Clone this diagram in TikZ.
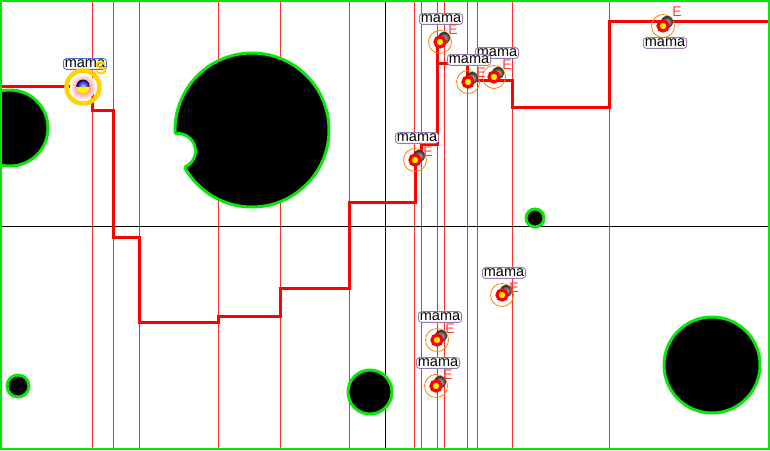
\documentclass[tikz,border=0pt]{standalone}
\usepackage{fontspec}
\setmainfont{Liberation Sans}
\definecolor{grn}{RGB}{10,230,10}
\definecolor{lblpurple}{RGB}{150,120,170}
\definecolor{lblblue}{RGB}{80,110,210}
\definecolor{ylw}{RGB}{255,210,0}
\definecolor{thinred}{RGB}{255,40,40}
\definecolor{eclr}{RGB}{255,60,60}
\tikzset{
  vline/.style={thinred, line width=0.9pt},
  axisline/.style={black, line width=0.9pt},
  blob/.style={grn, line width=3pt, fill=black},
  steppath/.style={red, line width=3pt, line join=miter},
  lbl/.style={draw=lblpurple, fill=white, rounded corners=3pt, line width=0.9pt, inner sep=1.4pt, font=\fontsize{14.5}{14.5}\selectfont, text=black},
  etxt/.style={text=eclr, font=\fontsize{14}{14}\selectfont, inner sep=0pt},
  mk/.pic={
    \draw[orange, line width=0.8pt] (0,0) circle (11.5);
    \shade[inner color=gray!50, outer color=black!85] (4,-4) circle (6);
    \draw[red, line width=3.2pt, fill=yellow] (0,0) circle (5);
  }
}
\begin{document}
\begin{tikzpicture}[x=1pt,y=-1pt]
\useasboundingbox (0,0) rectangle (770,450);
\fill[white] (0,0) rectangle (770,450);
% thin red vertical lines
\foreach \x in {92,113,139,218,280,349,414,421,437,444,467,477,512,609}
  \draw[vline] (\x,0) -- (\x,450);
% black axes
\draw[axisline] (0,226) -- (770,226);
\draw[axisline] (385,0) -- (385,450);
% circles
\begin{scope}
  \clip (0,0) rectangle (770,450);
  \draw[blob] (10,128) circle (38);
\end{scope}
\draw[blob] (252,130) circle (77);
\fill[white] (178,151) circle (17.5);
\begin{scope}
  \clip (252,130) circle (77);
  \draw[grn, line width=3pt] (178,151) circle (17.5);
\end{scope}
\draw[blob] (535,218) circle (9);
\draw[blob] (18,386) circle (11);
\draw[blob] (370,392) circle (22);
\draw[blob] (712,365) circle (48);
% step path
\draw[steppath] (0,86) -- (92,86) -- (92,110) -- (113,110) -- (113,237) -- (139,237)
  -- (139,322) -- (218,322) -- (218,316) -- (280,316) -- (280,288) -- (349,288)
  -- (349,202) -- (415,202) -- (415,155) -- (421,155) -- (421,144) -- (437,144)
  -- (437,40) -- (437,63) -- (467,63) -- (467,80) -- (512,80) -- (512,107)
  -- (609,107) -- (609,21) -- (770,21);
% special first marker
\coordinate (m0) at (83,87);
\node[lbl, draw=lblblue] (l0) at (85,64) {mama};
\shade[inner color=red!75, outer color=white] (m0) circle (13);
\fill[yellow] (m0) circle (6.5);
\begin{scope}
  \clip (75,78) rectangle (91,86.5);
  \shade[inner color=blue!25, outer color=blue!45!black] (83,86) circle (6.5);
\end{scope}
\draw[ylw, line width=4.5pt] (m0) circle (16.5);
\node[text=ylw, font=\bfseries\fontsize{18}{18}\selectfont, inner sep=0pt] (s0) at (101,68) {S};
% markers
\foreach \n/\mx/\my in {1/440/42, 2/468/82, 3/494/77, 4/415/160, 5/663/26, 6/502/295, 7/437/340, 8/436/386}{
  \coordinate (m\n) at (\mx,\my);
  \pic at (m\n) {mk};
}
\foreach \n/\lx/\ly/\ex/\ey in {
  1/441/19/453/30,
  4/417/138/428/152,
  5/665/43/677/12,
  6/504/273/514/288,
  7/440/317/450/329,
  8/438/363/448/375,
  3/497/53/507/65,
  2/469/60/481/73}{
  \node[lbl] (l\n) at (\lx,\ly) {mama};
  \node[etxt] (e\n) at (\ex,\ey) {E};
}
% border
\draw[grn, line width=2pt] (1,1) rectangle (769,449);
\end{tikzpicture}
\end{document}
